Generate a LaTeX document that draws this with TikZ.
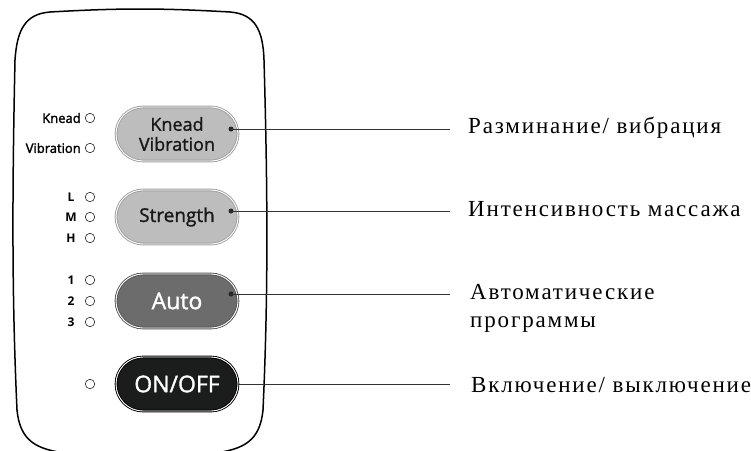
\documentclass[tikz,border=0pt]{standalone}
\usepackage{fontspec}
\setmainfont{Liberation Serif}
\setsansfont{Open Sans}
\newfontfamily\legendfont[LetterSpace=8]{Liberation Serif}
\newfontfamily\keyfont[FakeBold=1.4]{Open Sans}
\newfontfamily\lampfont[FakeBold=2]{Open Sans}
\usetikzlibrary{calc}
\usetikzlibrary{positioning}

\definecolor{lightkey}{HTML}{BDBDBD}
\definecolor{lightrim}{HTML}{9E9E9E}
\definecolor{darkkey}{HTML}{6C6C6C}
\definecolor{darkrim}{HTML}{555555}
\definecolor{blackkey}{HTML}{1B1D1C}

\tikzset{
  button/.style={rounded corners=27pt,minimum width=122pt,minimum height=54pt,inner sep=0pt,
    align=center,line width=0.9pt,double=white,double distance=0.9pt},
  lamp/.style={circle,draw=black!85,line width=0.6pt,minimum size=9.5pt,inner sep=0pt},
  lamplabel/.style={font=\lampfont\fontsize{13}{13}\selectfont,inner sep=0pt},
  levellabel/.style={font=\sffamily\bfseries\fontsize{12}{12}\selectfont,inner sep=0pt},
  buttondot/.style={circle,fill=black!85,minimum size=5pt,inner sep=0pt},
  legendtext/.style={font=\legendfont\fontsize{23}{28}\selectfont,inner sep=0pt,align=left},
  leader/.style={draw=black!80,line width=1pt}
}

\begin{document}
\begin{tikzpicture}[x=1pt,y=-1pt]

  \useasboundingbox (0,0) rectangle (751,450);
  \clip (0,0) rectangle (751,450);

  % housing
  \draw [line width=1.5pt]
    (50,12) .. controls (120,8) and (160,8) .. (230,12)
    .. controls (255,14) and (263,30) .. (264,60)
    .. controls (268,200) and (268,300) .. (263,410)
    .. controls (260,440) and (245,449) .. (215,453)
    -- (65,453)
    .. controls (35,449) and (20,440) .. (17,410)
    .. controls (12,300) and (12,200) .. (15,60)
    .. controls (17,30) and (25,14) .. (50,12) -- cycle;

  % keys
  \node [button,draw=lightrim,fill=lightkey,text=black!90,font=\keyfont\fontsize{18}{20}\selectfont] (knead) at (177,134) {Knead\\Vibration};
  \node [button,draw=lightrim,fill=lightkey,text=black!90,font=\keyfont\fontsize{19}{20}\selectfont] (strength) at (177,217) {Strength};
  \node [button,draw=darkrim,fill=darkkey,text=white,font=\keyfont\fontsize{23}{24}\selectfont] (auto) at (177,301) {Auto};
  \node [button,draw=black,fill=blackkey,text=white,font=\keyfont\fontsize{23}{24}\selectfont] (onoff) at (177,384) {ON/OFF};

  % indicator lamps
  \node [lamp] (lampknead) at (90,118) {};
  \node [lamplabel,left=4pt of lampknead] {Knead};
  \node [lamp] (lampvib) at (90,148) {};
  \node [lamplabel,left=4pt of lampvib] {Vibration};

  \node [lamp] (lampL) at (90,197) {};
  \node [levellabel] at (71,197) {L};
  \node [lamp] (lampM) at (90,217) {};
  \node [levellabel] at (71,217) {M};
  \node [lamp] (lampH) at (90,238) {};
  \node [levellabel] at (71,238) {H};

  \node [lamp] (lamp1) at (90,280) {};
  \node [levellabel] at (71,280) {1};
  \node [lamp] (lamp2) at (90,301) {};
  \node [levellabel] at (71,301) {2};
  \node [lamp] (lamp3) at (90,322) {};
  \node [levellabel] at (71,322) {3};

  \node [lamp] (lamponoff) at (90,384) {};

  % leaders
  \node [buttondot] (kneaddot) at (231,129) {};
  \node [buttondot] (strengthdot) at (231,211) {};
  \node [buttondot] (autodot) at (231,294) {};

  \coordinate (kneadend) at (450,129);
  \coordinate (strengthend) at (450,211);
  \coordinate (autoend) at (450,294);
  \coordinate (onoffend) at (450,384);

  \path [leader]
    (kneaddot.center) -- (kneadend)
    (strengthdot.center) -- (strengthend)
    (autodot.center) -- (autoend)
    (onoff.east) -- (onoffend);

  \node [legendtext,anchor=base west] (kneadtext) at (468,133) {Разминание/ вибрация};
  \node [legendtext,anchor=base west] (strengthtext) at (468,216) {Интенсивность массажа};
  \node [legendtext,anchor=north west] (autotext) at (470,284) {Автоматические\\программы};
  \node [legendtext,anchor=base west] (onofftext) at (471,392) {Включение/ выключение};

\end{tikzpicture}
\end{document}
